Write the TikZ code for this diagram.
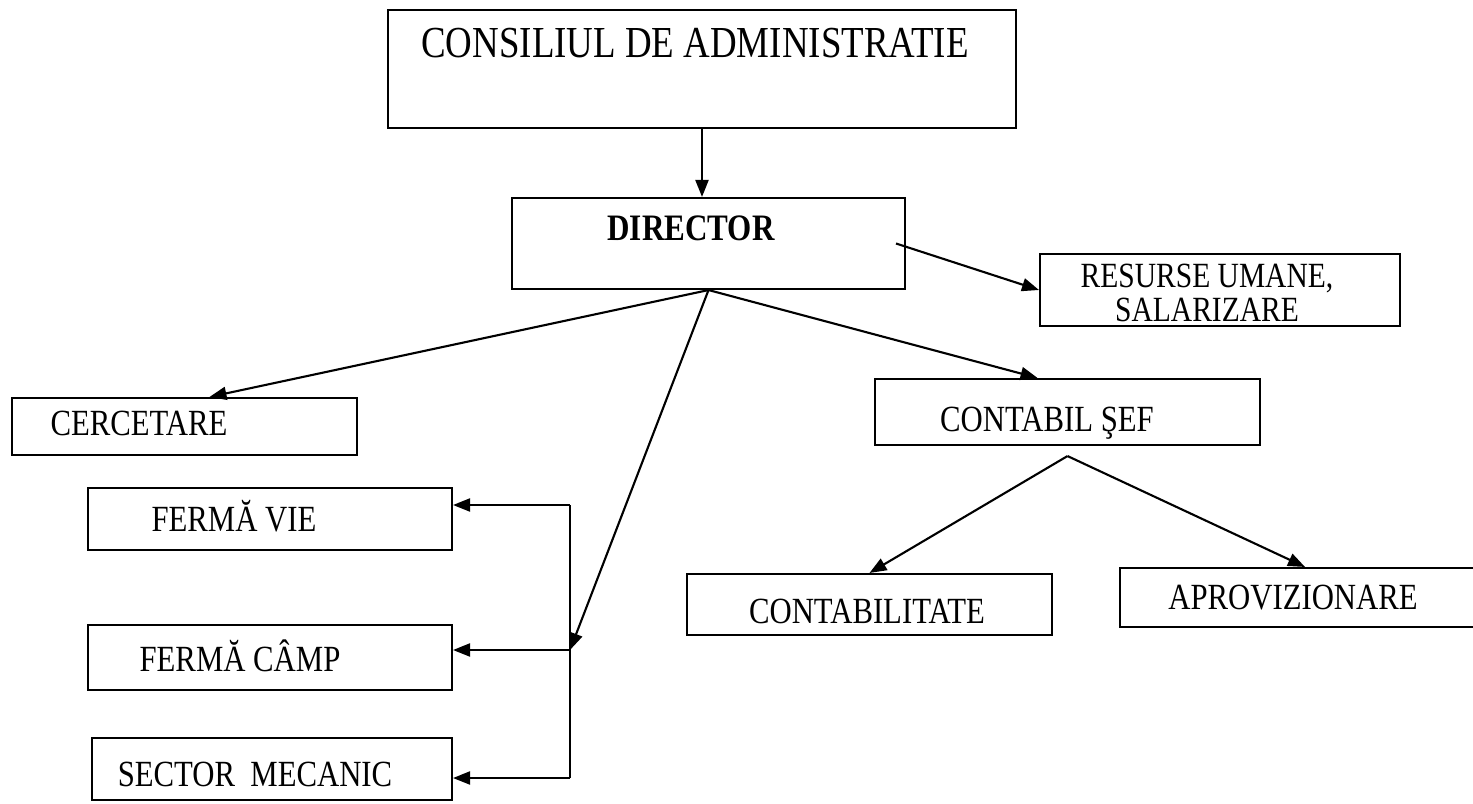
\documentclass[tikz,border=0pt]{standalone}
\usepackage{fontspec}
\setmainfont{Liberation Serif}
\usetikzlibrary{arrows.meta}
\newcommand*{\tall}[1]{\scalebox{1}[1.2]{#1}}
\tikzstyle{block} = [draw, rectangle, line width=1.2pt, inner sep=0pt]
\tikzstyle{txt} = [anchor=base, inner sep=0pt, font=\fontsize{17.5}{17}\selectfont]
\tikzstyle{link} = [-{Triangle[length=3.4mm, width=2.6mm]}, line width=1.2pt]

\begin{document}
\begin{tikzpicture}[x=0.02cm, y=-0.02cm]
    \clip (0,0) rectangle (1473,804);
    \fill [white] (0,0) rectangle (1473,804);

    % Boxes.
    \node (consiliu) [block, minimum width=12.56cm, minimum height=2.36cm] at (702,69) {};
    \node (director) [block, minimum width=7.86cm, minimum height=1.82cm] at (708.5,243.5) {};
    \node (resurse) [block, minimum width=7.2cm, minimum height=1.44cm] at (1220,290) {};
    \node (cercetare) [block, minimum width=6.9cm, minimum height=1.14cm] at (184.5,426.5) {};
    \node (contabil) [block, minimum width=7.7cm, minimum height=1.32cm] at (1067.5,412) {};
    \node (fermavie) [block, minimum width=7.28cm, minimum height=1.24cm] at (270,519) {};
    \node (contabilitate) [block, minimum width=7.3cm, minimum height=1.22cm] at (869.5,604.5) {};
    \node (aprovizionare) [block, minimum width=7.4cm, minimum height=1.18cm] at (1305,597.5) {};
    \node (fermacamp) [block, minimum width=7.28cm, minimum height=1.3cm] at (270,657.5) {};
    \node (sector) [block, minimum width=7.2cm, minimum height=1.24cm] at (272,769) {};

    % Texts.
    \node (consiliu-t) [txt, font=\fontsize{21}{25}\selectfont] at (695,58) {\tall{CONSILIUL DE ADMINISTRATIE}};
    \node (director-t) [txt, font=\fontsize{17.7}{20}\selectfont\bfseries] at (691,240) {\tall{DIRECTOR}};
    \node (resurse-t) [txt, anchor=center, align=center, font=\fontsize{16.8}{19}\selectfont] at (1207,293) {\tall{RESURSE UMANE,}\\\tall{SALARIZARE}};
    \node (cercetare-t) [txt] at (139,435) {\tall{CERCETARE}};
    \node (contabil-t) [txt] at (1047,431) {\tall{CONTABIL ŞEF}};
    \node (fermavie-t) [txt] at (234,531) {\tall{FERMĂ VIE}};
    \node (contabilitate-t) [txt] at (867,623) {\tall{CONTABILITATE}};
    \node (aprovizionare-t) [txt] at (1293,609) {\tall{APROVIZIONARE}};
    \node (fermacamp-t) [txt] at (240,671) {\tall{FERMĂ CÂMP}};
    \node (sector-t) [txt] at (255,786) {\tall{SECTOR\ \ MECANIC}};

    % Bus to the farms.
    \coordinate (bustop) at (570,505);
    \coordinate (hub) at (570,650);
    \coordinate (busbot) at (570,778);
    \draw [line width=1.2pt] (bustop) -- (busbot);

    % Apex under the chief accountant.
    \coordinate (apex) at ([yshift=-0.2cm]contabil.south);

    % Arrows.
    \draw [link] (consiliu.south) -- (consiliu.south |- director.north);
    \draw [link] ([xshift=-0.2cm]director.east) -- (resurse.west);
    \draw [link] (director.south) -- ([xshift=0.5cm]cercetare.north);
    \draw [link] (director.south) -- ([xshift=-0.6cm]contabil.north);
    \draw [link] (director.south) -- (hub);
    \draw [link] (bustop) -- (bustop -| fermavie.east);
    \draw [link] (hub) -- (hub -| fermacamp.east);
    \draw [link] (busbot) -- (busbot -| sector.east);
    \draw [link] (apex) -- (contabilitate.north);
    \draw [link] (apex) -- (aprovizionare.north);
\end{tikzpicture}
\end{document}
